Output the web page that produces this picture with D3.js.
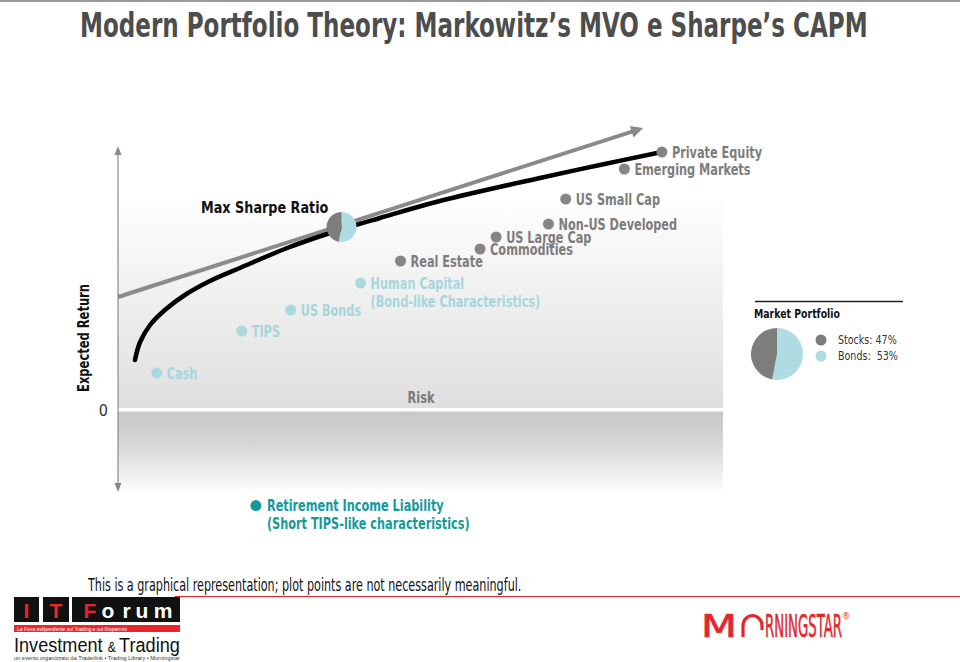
<!DOCTYPE html>
<html><head><meta charset="utf-8">
<script src="https://cdnjs.cloudflare.com/ajax/libs/d3/7.8.5/d3.min.js"></script>
<style>
body{margin:0;background:#fff;}
svg{display:block;}
text{font-family:"Liberation Sans Narrow","Arial Narrow","DejaVu Sans Condensed","Roboto Condensed",sans-serif;}
</style></head><body><svg id="c" width="960" height="662"></svg>
<script>
// ---------- data ----------
const titleText = "Modern Portfolio Theory: Markowitz\u2019s MVO e Sharpe\u2019s CAPM";
const footnoteText = "This is a graphical representation; plot points are not necessarily meaningful.";
const xAxisLabel = "Risk";
const yAxisLabel = "Expected Return";
const yTickValues = [0];

const assetNames   = ["Cash","TIPS","US Bonds","Human Capital","Real Estate","Commodities","US Large Cap","Non-US Developed","US Small Cap","Emerging Markets","Private Equity","Retirement Income Liability"];
const assetSub     = ["","","","(Bond-like Characteristics)","","","","","","","","(Short TIPS-like characteristics)"];
const assetRisk    = [1.28, 4.09, 5.71, 8.02, 9.34, 11.97, 12.5, 14.23, 14.8, 16.74, 17.98, 4.56];
const assetReturn  = [1.85, 3.95, 5.0, 6.35, 7.45, 8.05, 8.65, 9.3, 10.55, 12.05, 12.9, -4.78];
const assetGroup   = ["bond","bond","bond","bond","equity","equity","equity","equity","equity","equity","equity","liability"];

const frontierRisk   = [0.56, 0.73, 1.06, 1.55, 2.21, 3.04, 4.03, 5.59, 7.11, 8.66, 10.64, 13.95, 15.93, 17.98];
const frontierReturn = [2.5, 3.4, 4.25, 5.0, 5.75, 6.45, 7.1, 8.1, 8.9, 9.6, 10.45, 11.6, 12.25, 12.9];

const cmlRisk   = [0, 17.36];
const cmlReturn = [5.65, 14.1];

const maxSharpeRisk = 7.39, maxSharpeReturn = 9.15;
const maxSharpeLabel = "Max Sharpe Ratio";

const mixLabels = ["Stocks","Bonds"];
const mixValues = [47, 53];
const mixText   = ["Stocks: 47%","Bonds:  53%"];
const marketTitle = "Market Portfolio";

// ---------- styles ----------
const colors = {equity:"#858585", bond:"#aad9df", liability:"#17999a"};
const pieColors = {Stocks:"#7d7d7d", Bonds:"#aedce2"};
const labelColors = {equity:"#7d7d7d", bond:"#a6d6dc", liability:"#17999a"};

const svg = d3.select("#c");
const defs = svg.append("defs");

// horizontally condense a text element about its anchor point
function narrow(sel, s, extra){
  sel.each(function(){
    const t = d3.select(this);
    const tx = +t.attr("x") || 0, ty = +t.attr("y") || 0;
    t.attr("x",0).attr("y",0).attr("transform",`translate(${tx},${ty}) ${extra||""} scale(${s},1)`);
  });
  return sel;
}
// fit a text element to a given width by horizontal scaling
function fit(sel, w){
  sel.each(function(){
    const L = this.getComputedTextLength();
    narrow(d3.select(this), w / L);
  });
  return sel;
}

const x = d3.scaleLinear().domain([0, 20]).range([118, 723]);
const y = d3.scaleLinear().domain([0, 15]).range([410, 110]);

// top rule
svg.append("rect").attr("x",0).attr("y",0).attr("width",960).attr("height",2).attr("fill","#9a9a9a");

// title
fit(svg.append("text").attr("x",80).attr("y",37).attr("font-size",34).attr("font-weight","bold")
  .attr("fill","#4d4d4d").text(titleText), 788);

// background gradients
const g1 = defs.append("linearGradient").attr("id","gUp").attr("x1",0).attr("y1",0).attr("x2",0).attr("y2",1);
g1.append("stop").attr("offset","0").attr("stop-color","#ffffff");
g1.append("stop").attr("offset","0.2").attr("stop-color","#ffffff");
g1.append("stop").attr("offset","1").attr("stop-color","#dfdfdf");
const g2 = defs.append("linearGradient").attr("id","gDn").attr("x1",0).attr("y1",0).attr("x2",0).attr("y2",1);
g2.append("stop").attr("offset","0").attr("stop-color","#c7c7c7");
g2.append("stop").attr("offset","0.35").attr("stop-color","#d4d4d4");
g2.append("stop").attr("offset","1").attr("stop-color","#ffffff");

svg.append("rect").attr("x",x(0)).attr("y",140).attr("width",x(20)-x(0)).attr("height",y(0)-2-140).attr("fill","url(#gUp)");
svg.append("rect").attr("x",x(0)).attr("y",y(0)+1.5).attr("width",x(20)-x(0)).attr("height",82).attr("fill","url(#gDn)");

// y axis line with arrows
const axisX = x(0);
svg.append("line").attr("x1",axisX).attr("x2",axisX).attr("y1",152).attr("y2",486).attr("stroke","#8a8a8a").attr("stroke-width",1.2);
svg.append("path").attr("d",`M${axisX-3.5},155 L${axisX},146 L${axisX+3.5},155 Z`).attr("fill","#8a8a8a");
svg.append("path").attr("d",`M${axisX-3.5},483 L${axisX},492 L${axisX+3.5},483 Z`).attr("fill","#8a8a8a");

// y axis tick "0"
const yAxis = d3.axisLeft(y).tickValues(yTickValues).tickSize(0).tickPadding(10).tickFormat(d3.format("d"));
const ya = svg.append("g").attr("transform",`translate(${axisX},0)`).call(yAxis);
ya.select(".domain").remove();
ya.selectAll("text").attr("font-size",16).attr("fill","#333")
  .style("font-family",'"Liberation Sans Narrow","DejaVu Sans Condensed",sans-serif');

// axis labels
narrow(svg.append("text").attr("x",89).attr("y",338).attr("text-anchor","middle")
  .attr("font-size",16).attr("font-weight","bold").attr("fill","#111").text(yAxisLabel), 0.8, "rotate(-90)");
narrow(svg.append("text").attr("x",421).attr("y",403).attr("text-anchor","middle").attr("font-size",15.5)
  .attr("font-weight","bold").attr("fill","#7a7a7a").text(xAxisLabel), 0.82);

// capital market line
const cx0 = x(cmlRisk[0]), cy0 = y(cmlReturn[0]), cx1 = x(cmlRisk[1]), cy1 = y(cmlReturn[1]);
const ang = Math.atan2(cy1-cy0, cx1-cx0);
const back = 12, half = 6;
const bx = cx1 - back*Math.cos(ang), by = cy1 - back*Math.sin(ang);
svg.append("line").attr("x1",cx0).attr("y1",cy0).attr("x2",bx+2*Math.cos(ang)).attr("y2",by+2*Math.sin(ang))
  .attr("stroke","#8a8a8a").attr("stroke-width",4);
svg.append("path").attr("d",`M${cx1},${cy1} L${bx - half*Math.sin(ang)},${by + half*Math.cos(ang)} L${bx + half*Math.sin(ang)},${by - half*Math.cos(ang)} Z`)
  .attr("fill","#8a8a8a");

// efficient frontier
const frontier = frontierRisk.map((r,i)=>[r, frontierReturn[i]]);
svg.append("path").datum(frontier)
  .attr("d", d3.line().x(d=>x(d[0])).y(d=>y(d[1])).curve(d3.curveCatmullRom.alpha(0.5)))
  .attr("fill","none").attr("stroke","#000").attr("stroke-width",4.5).attr("stroke-linecap","round");

// asset points & labels
const assets = assetNames.map((n,i)=>({name:n, sub:assetSub[i], r:assetRisk[i], ret:assetReturn[i], g:assetGroup[i]}));
const ag = svg.append("g").selectAll("g").data(assets).join("g");
ag.append("circle").attr("cx",d=>x(d.r)).attr("cy",d=>y(d.ret)).attr("r",5.5).attr("fill",d=>colors[d.g]);
narrow(ag.append("text").attr("x",d=>x(d.r)+ (d.g==="liability"?11:10)).attr("y",d=>y(d.ret)+5.5)
  .attr("font-size",15.5).attr("font-weight","bold").attr("fill",d=>labelColors[d.g]).text(d=>d.name), 0.81);
narrow(ag.filter(d=>d.sub).append("text").attr("x",d=>x(d.r)+ (d.g==="liability"?11:10)).attr("y",d=>y(d.ret)+23.5)
  .attr("font-size",15.5).attr("font-weight","bold").attr("fill",d=>labelColors[d.g]).text(d=>d.sub), 0.81);

// pies
const pieOrder = [1,0]; // bonds clockwise from 12 o'clock, then stocks
const pie = d3.pie().sort(null).value(i=>mixValues[i]);
const arcs = pie(pieOrder);
function drawPie(cx, cy, r){
  const a = d3.arc().innerRadius(0).outerRadius(r);
  svg.append("g").attr("transform",`translate(${cx},${cy})`).selectAll("path").data(arcs).join("path")
    .attr("d",a).attr("fill",d=>pieColors[mixLabels[d.data]]);
}
drawPie(x(maxSharpeRisk), y(maxSharpeReturn), 15);
narrow(svg.append("text").attr("x",201).attr("y",213).attr("font-size",16).attr("font-weight","bold").attr("fill","#111").text(maxSharpeLabel), 0.89);

// market portfolio panel
svg.append("line").attr("x1",755).attr("x2",903).attr("y1",301.5).attr("y2",301.5).attr("stroke","#222").attr("stroke-width",1.3);
narrow(svg.append("text").attr("x",754).attr("y",318).attr("font-size",13).attr("font-weight","bold").attr("fill","#111").text(marketTitle), 0.8);
drawPie(777, 354, 26);
const lg = svg.append("g").selectAll("g").data(mixLabels).join("g");
lg.append("circle").attr("cx",821).attr("cy",(d,i)=>340+i*16).attr("r",5.5).attr("fill",d=>pieColors[d]);
narrow(lg.append("text").attr("x",838).attr("y",(d,i)=>344+i*15.5).attr("font-size",13).attr("fill","#333")
  .attr("xml:space","preserve").style("white-space","pre").text((d,i)=>mixText[i]), 0.815);

// footnote & red rule
fit(svg.append("text").attr("x",88).attr("y",591).attr("font-size",17).attr("fill","#111").text(footnoteText), 434);
svg.append("line").attr("x1",175).attr("x2",960).attr("y1",596.5).attr("y2",596.5).attr("stroke","#e0262c").attr("stroke-width",1.2);

// IT Forum logo
const logo = svg.append("g");
const sans = '"Liberation Sans","DejaVu Sans",Arial,sans-serif';
logo.append("rect").attr("x",14).attr("y",597).attr("width",25).attr("height",25).attr("fill","#111");
logo.append("rect").attr("x",43).attr("y",597).attr("width",26).attr("height",25).attr("fill","#111");
logo.append("rect").attr("x",72).attr("y",597).attr("width",108).attr("height",25).attr("fill","#111");
[["I",26.5,"#e8262b"],["T",56,"#e8262b"],["F",90,"#e8262b"],["o",108,"#fff"],["r",126.5,"#fff"],["u",142,"#fff"],["m",163,"#fff"]]
  .forEach(([t,cx,c])=>logo.append("text").attr("x",cx).attr("y",617.5).attr("text-anchor","middle")
    .attr("font-size",21).attr("font-weight","bold").attr("fill",c).style("font-family",sans).text(t));
logo.append("rect").attr("x",14).attr("y",625).attr("width",166).attr("height",7).attr("fill","#e8262b");
logo.append("text").attr("x",17).attr("y",630.5).attr("font-size",5).attr("fill","#fff").style("font-family",sans)
  .text("La Fiera indipendente sul Trading e sul Risparmio");
const inv = logo.append("text").attr("x",14).attr("y",652).attr("font-size",21).attr("fill","#111").style("font-family",sans);
inv.append("tspan").text("Investment ");
inv.append("tspan").attr("font-size",14).text("& ");
inv.append("tspan").text("Trading");
fit(inv, 166);
fit(logo.append("text").attr("x",14).attr("y",660).attr("font-size",6).attr("fill","#333").style("font-family",sans)
  .text("un evento organizzato da Traderlink \u2022 Trading Library \u2022 Morningstar"), 166);

// Morningstar logo
const ms = svg.append("g");
const red = "#e3262d";
fit(ms.append("text").attr("x",701).attr("y",637).attr("font-size",32).attr("fill",red)
  .attr("stroke",red).attr("stroke-width",0.6).text("M"), 36);
ms.append("path").attr("d","M743,637 L743,626 A9.5 10.5 0 0 1 762,626 L762,630").attr("fill","none").attr("stroke",red).attr("stroke-width",3.2);
fit(ms.append("text").attr("x",765).attr("y",637).attr("font-size",32).attr("fill",red)
  .attr("stroke",red).attr("stroke-width",0.6).text("RNINGSTAR"), 77);
ms.append("text").attr("x",846).attr("y",619).attr("text-anchor","middle").attr("font-size",9).attr("fill",red).text("\u00AE");
</script></body></html>
